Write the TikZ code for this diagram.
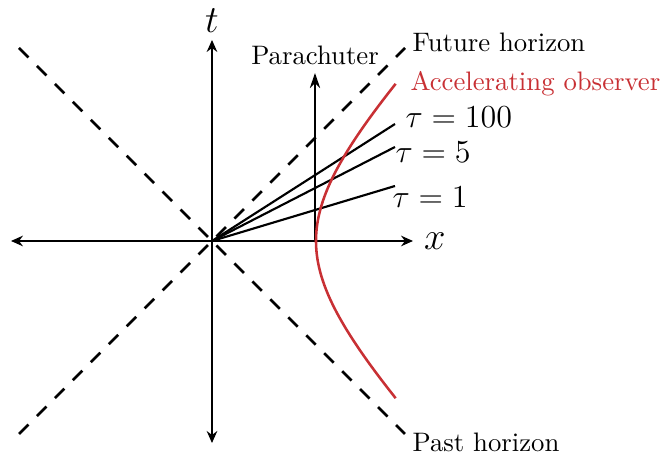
\documentclass[tikz,border=0pt]{standalone}
\usepackage{tikz}
\usetikzlibrary{arrows.meta,positioning,calc}
\definecolor{obsred}{RGB}{200,48,52}

\begin{document}
\begin{tikzpicture}[
  x=1.315cm, y=1.315cm,
  axis/.style={{Stealth[length=4.5pt,width=4pt,inset=1.5pt]}-{Stealth[length=4.5pt,width=4pt,inset=1.5pt]}, line width=0.45pt},
  horizon/.style={line width=1pt, dash pattern=on 5pt off 4.5pt},
  slice/.style={line width=0.8pt},
  worldline/.style={obsred, line width=0.95pt},
  parr/.style={-{Stealth[length=5.6pt, width=3.8pt]}, line width=0.95pt},
  lbl/.style={inner sep=0pt, anchor=base west},
  taulbl/.style={lbl, font=\fontsize{11.6}{14}\selectfont}
]
\useasboundingbox (-2.12,-2.17) rectangle (4.54,2.41);

% axes
\coordinate (O) at (0,0);
\coordinate (xl) at (-2.01,0);
\coordinate (xr) at (2.01,0);
\coordinate (yb) at (0,-2.02);
\coordinate (yt) at (0,2.01);
\draw[axis] (xl) -- (xr);
\draw[axis] (yb) -- (yt);
\node[right=4pt of xr, inner sep=0pt, font=\Large] (xlab) {$x$};
\node[above=2.6pt of yt, inner sep=0pt, font=\Large] (tlab) {$t$};

% horizons
\coordinate (hur) at (1.93,1.93);
\coordinate (hll) at (-1.93,-1.93);
\coordinate (hul) at (-1.93,1.93);
\coordinate (hlr) at (1.93,-1.93);
\draw[horizon] (hll) -- (hur);
\draw[horizon] (hul) -- (hlr);
\node[lbl] (future) at (2.00,1.89) {Future horizon};
\node[lbl] (past) at (2.00,-2.11) {Past horizon};

% constant tau slices
\foreach \nm/\ey in {hundred/1.17, five/0.94, one/0.55}{
  \coordinate (\nm) at (1.83,\ey);
  \draw[slice] (O) -- (\nm);
}
\node[taulbl] (tauhundred) at (1.93,1.13) {$\tau = 100$};
\node[taulbl] (taufive) at (1.83,0.78) {$\tau = 5$};
\node[taulbl] (tauone) at (1.80,0.33) {$\tau = 1$};

% parachuter
\coordinate (pbot) at (1.03,0);
\coordinate (ptop) at (1.03,1.68);
\draw[parr] (pbot) -- (ptop);
\node[above=3pt of ptop, inner sep=0pt] (para) {Parachuter};

% accelerating observer
\draw[worldline] plot[domain=-1.17:1.17, samples=80, variable=\u] ({1.04*cosh(\u)}, {1.08*sinh(\u)});
\node[lbl, text=obsred] (obs) at (1.98,1.50) {Accelerating observer};

\end{tikzpicture}
\end{document}
